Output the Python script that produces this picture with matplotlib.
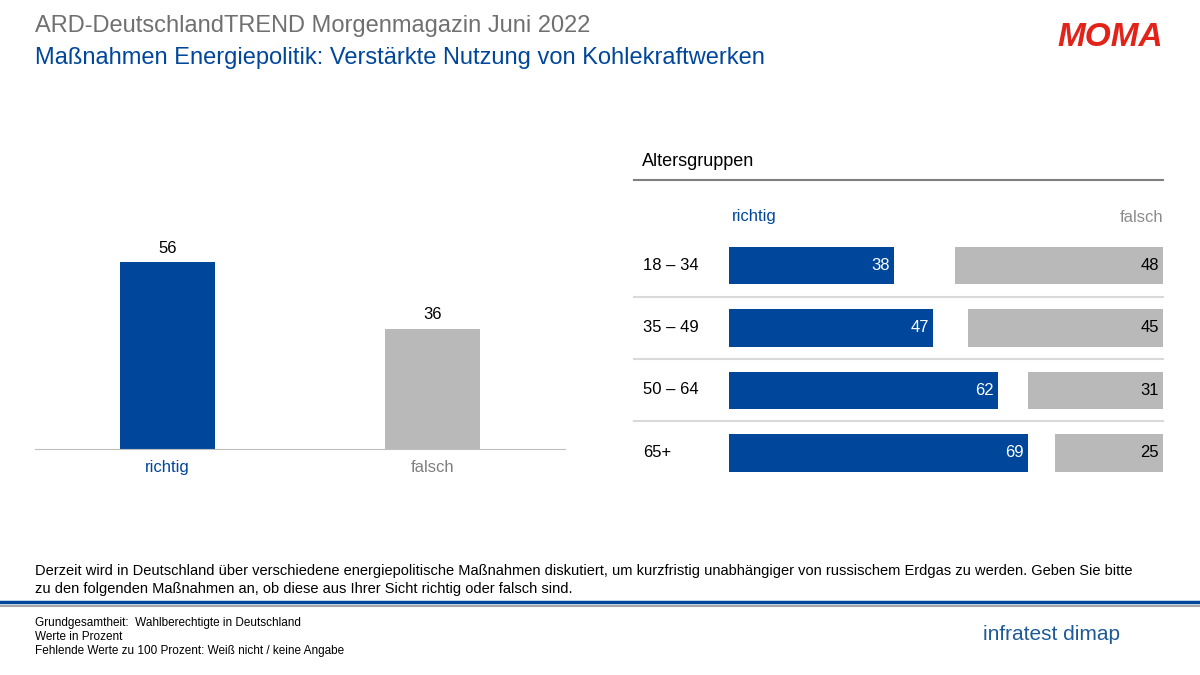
import matplotlib.pyplot as plt
from matplotlib.lines import Line2D

W, H = 1200, 675
BLUE = "#00479b"
GREY = "#b9b9b9"

total_labels = ["richtig", "falsch"]
total_values = [56, 36]

age_groups = ["18 – 34", "35 – 49", "50 – 64", "65+"]
age_richtig = [38, 47, 62, 69]
age_falsch = [48, 45, 31, 25]

plt.rcParams['font.family'] = ['Arial', 'Liberation Sans', 'DejaVu Sans']
fig = plt.figure(figsize=(12, 6.75), dpi=100)

def px(x, y):
    return x / W, 1 - y / H

def axes_px(x0, y0, x1, y1):
    return fig.add_axes([x0 / W, 1 - y1 / H, (x1 - x0) / W, (y1 - y0) / H])

# titles
fig.text(*px(35, 26), "ARD-DeutschlandTREND Morgenmagazin Juni 2022", fontsize=17, color="#707070", va="center")
fig.text(*px(35, 58), "Maßnahmen Energiepolitik: Verstärkte Nutzung von Kohlekraftwerken", fontsize=17, color=BLUE, va="center")
fig.text(*px(1110, 38), "MOMA", fontsize=24, color="#e2231a", fontweight="bold", fontstyle="italic", va="center", ha="center")

# left chart
ax = axes_px(35, 249, 565, 449)
ax.bar(range(2), total_values, width=0.36, color=[BLUE, GREY])
ax.set_xlim(-0.5, 1.5)
ax.set_ylim(0, 60)
for i, v in enumerate(total_values):
    ax.text(i, v + 2, str(v), ha="center", va="bottom", fontsize=12)
ax.set_xticks(range(2))
ax.set_xticklabels(total_labels, fontsize=12)
for t, c in zip(ax.get_xticklabels(), [BLUE, "#7f7f7f"]):
    t.set_color(c)
ax.tick_params(length=0, pad=8)
for s in ["top", "right", "left"]:
    ax.spines[s].set_visible(False)
ax.spines["bottom"].set_color("#bfbfbf")
ax.set_yticks([])

# right chart
fig.text(*px(642, 161), "Altersgruppen", fontsize=13, va="center")
fig.add_artist(Line2D([634 / W, 1163 / W], [1 - 180 / H] * 2, color="#7f7f7f", lw=1.5))
fig.text(*px(732, 217), "richtig", fontsize=12, color=BLUE, va="center")
fig.text(*px(1163, 217), "falsch", fontsize=12, color="#8c8c8c", va="center", ha="right")

ax2 = axes_px(729, 234, 1163, 484)
ypos = list(range(len(age_groups)))
ax2.barh(ypos, age_richtig, height=0.6, color=BLUE)
ax2.barh(ypos, age_falsch, left=[100 - v for v in age_falsch], height=0.6, color=GREY)
ax2.set_xlim(0, 100)
ax2.set_ylim(3.5, -0.5)
ax2.axis("off")
for i, (r, f) in enumerate(zip(age_richtig, age_falsch)):
    ax2.text(r - 1, i, str(r), color="white", ha="right", va="center", fontsize=12)
    ax2.text(99, i, str(f), color="black", ha="right", va="center", fontsize=12)
    fig.text(*px(643, 265 + 62.5 * i), age_groups[i], fontsize=12, va="center")
for y in [297, 359, 421]:
    fig.add_artist(Line2D([634 / W, 1163 / W], [1 - y / H] * 2, color="#d9d9d9", lw=1.5))

# question and footer
fig.text(*px(35, 580), "Derzeit wird in Deutschland über verschiedene energiepolitische Maßnahmen diskutiert, um kurzfristig unabhängiger von russischem Erdgas zu werden. Geben Sie bitte\nzu den folgenden Maßnahmen an, ob diese aus Ihrer Sicht richtig oder falsch sind.",
         fontsize=10.5, va="center", linespacing=1.3)
fig.add_artist(Line2D([0, 1], [1 - 602 / H] * 2, color=BLUE, lw=2.5))
fig.add_artist(Line2D([0, 1], [1 - 606 / H] * 2, color="#a6a6a6", lw=1.5))
fig.text(*px(35, 637), "Grundgesamtheit:  Wahlberechtigte in Deutschland\nWerte in Prozent\nFehlende Werte zu 100 Prozent: Weiß nicht / keine Angabe",
         fontsize=8.5, va="center", linespacing=1.25)
fig.text(*px(1120, 634), "infratest dimap", fontsize=15, color="#1f5a96", va="center", ha="right")

fig.savefig("out.png", dpi=100)
